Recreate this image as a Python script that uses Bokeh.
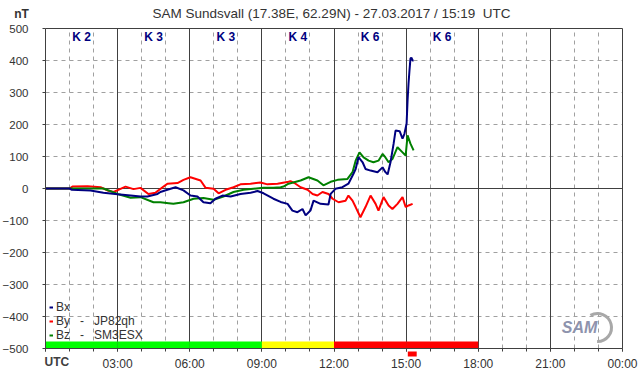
from bokeh.plotting import figure
from bokeh.models import (Legend, LegendItem, Grid, FixedTicker, SingleIntervalTicker)
from bokeh.core.properties import value
from bokeh.embed import file_html
from bokeh.resources import INLINE

# ---------------- data (hours UTC, nT) ----------------
bx_t = [0, 1.0, 1.1, 1.87, 2.41, 3.0, 3.54, 3.95, 4.24, 4.66, 4.78, 5.07, 5.41, 5.74,
        6.03, 6.32, 6.57, 6.86, 7.07, 7.36, 7.70, 8.11, 8.53, 8.82, 9.07, 9.48, 9.78,
        10.07, 10.27, 10.48, 10.69, 10.82, 11.02, 11.15, 11.44, 11.77, 11.86, 12.06,
        12.35, 12.60, 12.81, 12.90, 13.02, 13.19, 13.31, 13.52, 13.81, 14.02, 14.14,
        14.23, 14.35, 14.48, 14.56, 14.73, 14.85, 14.93, 15.02, 15.06, 15.10, 15.14,
        15.18, 15.22, 15.27, 15.31]
bx_v = [0, 0, -4, -6, -13, -18, -22, -25, -25, -17, -11, -4, 4, -6,
        -22, -25, -43, -46, -32, -22, -25, -17, -13, -8, -15, -32, -42,
        -48, -69, -74, -64, -84, -69, -38, -48, -50, -17, -1,
        4, 15, 46, 61, 98, 82, 61, 56, 51, 66, 51,
        44, 82, 140, 181, 179, 156, 171, 203, 275, 328, 369,
        406, 409, 400, 400]

by_t = [0, 1.0, 1.12, 1.75, 2.29, 2.58, 2.83, 3.12, 3.33, 3.66, 3.95, 4.28, 4.58, 4.91,
        5.07, 5.49, 5.74, 6.03, 6.45, 6.66, 6.99, 7.20, 7.49, 7.82, 8.11, 8.53, 8.94,
        9.23, 9.65, 10.11, 10.19, 10.40, 10.61, 10.90, 11.11, 11.31, 11.52, 11.77, 11.94,
        12.19, 12.48, 12.60, 12.77, 12.90, 13.10, 13.31, 13.52, 13.73, 13.85, 14.06,
        14.27, 14.43, 14.64, 14.85, 14.98, 15.10, 15.27]
by_v = [0, 0, 6, 7, 4, -6, -11, -1, 6, -2, 2, -17, -13, 6,
        15, 17, 27, 35, 25, 2, -1, -15, -4, 4, 13, 15, 19,
        13, 15, 21, 23, 15, 4, -4, -17, -22, -11, -17, -32,
        -43, -38, -22, -38, -58, -90, -58, -22, -48, -69, -27,
        -53, -64, -48, -27, -58, -53, -48]

bz_t = [0, 2.41, 3.0, 3.54, 3.95, 4.49, 4.78, 5.12, 5.32, 5.74, 6.16, 6.57, 6.99, 7.40,
        7.82, 8.24, 8.65, 9.07, 9.48, 9.78, 9.90, 10.11, 10.61, 10.94, 11.31, 11.56,
        11.86, 12.15, 12.56, 12.77, 12.90, 13.06, 13.23, 13.44, 13.64, 13.85, 14.02,
        14.14, 14.27, 14.43, 14.64, 14.85, 14.98, 15.06, 15.18, 15.31]
bz_v = [0, 0, -17, -29, -27, -43, -43, -46, -48, -43, -32, -30, -35, -25,
        -11, -4, -1, 2, 2, 4, 6, 15, 25, 35, 25, 10,
        21, 27, 30, 51, 87, 113, 97, 87, 82, 87, 108,
        97, 82, 92, 129, 113, 103, 166, 140, 119]

k_start = [0, 3, 6, 9, 12, 15]
k_end = [3, 6, 9, 12, 15, 18]
k_index = [2, 3, 3, 4, 6, 6]

x_tick_hours = [0, 3, 6, 9, 12, 15, 18, 21, 24]
x_tick_labels = ["", "03:00", "06:00", "09:00", "12:00", "15:00", "18:00", "21:00", "00:00"]

title_text = "SAM Sundsvall (17.38E, 62.29N) - 27.03.2017 / 15:19\u00a0\u00a0UTC"
legend_labels = ["Bx",
                 "By\u00a0\u00a0\u00a0-\u00a0\u00a0\u00a0JP82qh",
                 "Bz\u00a0\u00a0\u00a0-\u00a0\u00a0\u00a0SM3ESX"]
now_box = (15.07, 15.44)

# ---------------- layout & styling ----------------
W, H = 642, 376
FL, FR, FT, FB = 45, 20, 28, 28          # pixel margins of the chart box
T0, T1, V0, V1 = 0, 24, -500, 500
kx = (W - FL - FR) / (T1 - T0)            # px per hour
ky = (H - FT - FB) / (V1 - V0)            # px per nT

FONT = "Liberation Sans"
DARK = "#404040"
TXT = "#333333"
C_BX, C_BY, C_BZ = "#000080", "#ff0000", "#008000"

def k_color(k):
    if k <= 3:
        return "#00ff00"
    if k == 4:
        return "#ffff00"
    return "#ff0000"

p = figure(width=W, height=H,
           x_range=(T0 - FL / kx, T1 + FR / kx), y_range=(V0 - FB / ky, V1 + FT / ky),
           output_backend="svg", toolbar_location=None,
           min_border_left=0, min_border_right=0, min_border_top=0, min_border_bottom=0,
           background_fill_color="white", border_fill_color="white",
           outline_line_color=None)

p.xgrid.visible = False
p.ygrid.visible = False

dashed_hours = [h for h in range(1, 24) if h % 3 != 0]
solid_hours = [h for h in range(3, 25, 3)]
dashed_nt = [v for v in range(-400, 500, 100) if v != 0]

p.add_layout(Grid(dimension=0, ticker=FixedTicker(ticks=dashed_hours), cross_bounds=(V0, V1),
                  grid_line_color="#a0a0a0", grid_line_dash="4 4"))
p.add_layout(Grid(dimension=1, ticker=FixedTicker(ticks=dashed_nt), cross_bounds=(T0, T1),
                  grid_line_color="#a0a0a0", grid_line_dash="4 4"))
p.add_layout(Grid(dimension=0, ticker=FixedTicker(ticks=solid_hours), cross_bounds=(V0, V1),
                  grid_line_color=DARK))
p.add_layout(Grid(dimension=1, ticker=FixedTicker(ticks=[0, V1]), cross_bounds=(T0, T1),
                  grid_line_color=DARK))

# K-index colour band
p.quad(left=k_start, right=k_end, bottom=V0, top=V0 + 22,
       fill_color=[k_color(k) for k in k_index], line_color=None)

# K labels
p.text(x=[(a + b) / 2 for a, b in zip(k_start, k_end)], y=[V1 - 28] * len(k_index),
       text=["K %d" % k for k in k_index], text_font=value(FONT),
       text_font_style="bold", text_font_size="12px", text_color="#000080",
       text_align="center", text_baseline="middle")

# data lines
r_by = p.line(by_t, by_v, line_color=C_BY, line_width=2)
r_bz = p.line(bz_t, bz_v, line_color=C_BZ, line_width=2)
r_bx = p.line(bx_t, bx_v, line_color=C_BX, line_width=2)

# current-time marker just below the axis
p.quad(left=[now_box[0]], right=[now_box[1]], bottom=[V0 - 8 / ky],
       top=[V0 - 3 / ky], fill_color="#ff0000", line_color=None)

# axes, pinned to the chart box
xa = p.xaxis[0]
xa.fixed_location = V0
xa.bounds = (T0, T1)
xa.ticker = SingleIntervalTicker(interval=3, num_minor_ticks=3)
xa.major_label_overrides = {h: lab for h, lab in zip(x_tick_hours, x_tick_labels)}
ya = p.yaxis[0]
ya.fixed_location = T0
ya.bounds = (V0, V1)
ya.ticker = SingleIntervalTicker(interval=100, num_minor_ticks=0)
for ax in (xa, ya):
    ax.axis_line_color = DARK
    ax.major_tick_line_color = DARK
    ax.minor_tick_line_color = DARK
    ax.major_tick_in = 0
    ax.major_tick_out = 3
    ax.minor_tick_in = 0
    ax.minor_tick_out = 3
    ax.major_label_text_font = FONT
    ax.major_label_text_color = TXT
xa.major_label_text_font_size = "12px"
xa.major_label_standoff = 5
ya.major_label_text_font_size = "11.5px"
ya.major_label_standoff = 14

# legend
leg = Legend(items=[LegendItem(label=l, renderers=[r])
                    for l, r in zip(legend_labels, (r_bx, r_by, r_bz))],
             location=(FL + 4, FB + 6), glyph_width=4, glyph_height=12, label_height=12,
             label_standoff=3, spacing=-2, padding=0, margin=0,
             border_line_alpha=0, background_fill_alpha=0,
             label_text_font=FONT, label_text_font_size="12px", label_text_color=TXT)
p.add_layout(leg)

# texts around the chart box
p.text(x=[T0 + (331 - FL) / kx], y=[V1 + 15 / ky], text=[title_text],
       text_align="center", text_baseline="middle", text_font=value(FONT),
       text_font_size="13.5px", text_color=TXT)
p.text(x=[T0 - 24 / kx], y=[V1 + 15 / ky], text=["nT"], text_align="center",
       text_baseline="middle", text_font=value(FONT), text_font_style="bold",
       text_font_size="12px", text_color=TXT)
p.text(x=[T0 - 1 / kx], y=[V0 - 13 / ky], text=["UTC"], text_align="left",
       text_baseline="middle", text_font=value(FONT), text_font_style="bold",
       text_font_size="12px", text_color="#404040")

# SAM logo (approximation)
p.arc(x=[T0 + (597 - FL) / kx], y=[V0 + 21 / ky], radius=14, radius_units="screen",
      start_angle=-1.6, end_angle=2.1, line_color="#a8a8a8", line_width=3)
p.text(x=[T0 + (579 - FL) / kx], y=[V0 + 21 / ky], text=["SAM"], text_align="center",
       text_baseline="middle", text_font=value(FONT), text_font_style="bold italic",
       text_font_size="16px", text_color="#8e93ad")

open("out.html", "w").write(file_html(p, INLINE))
